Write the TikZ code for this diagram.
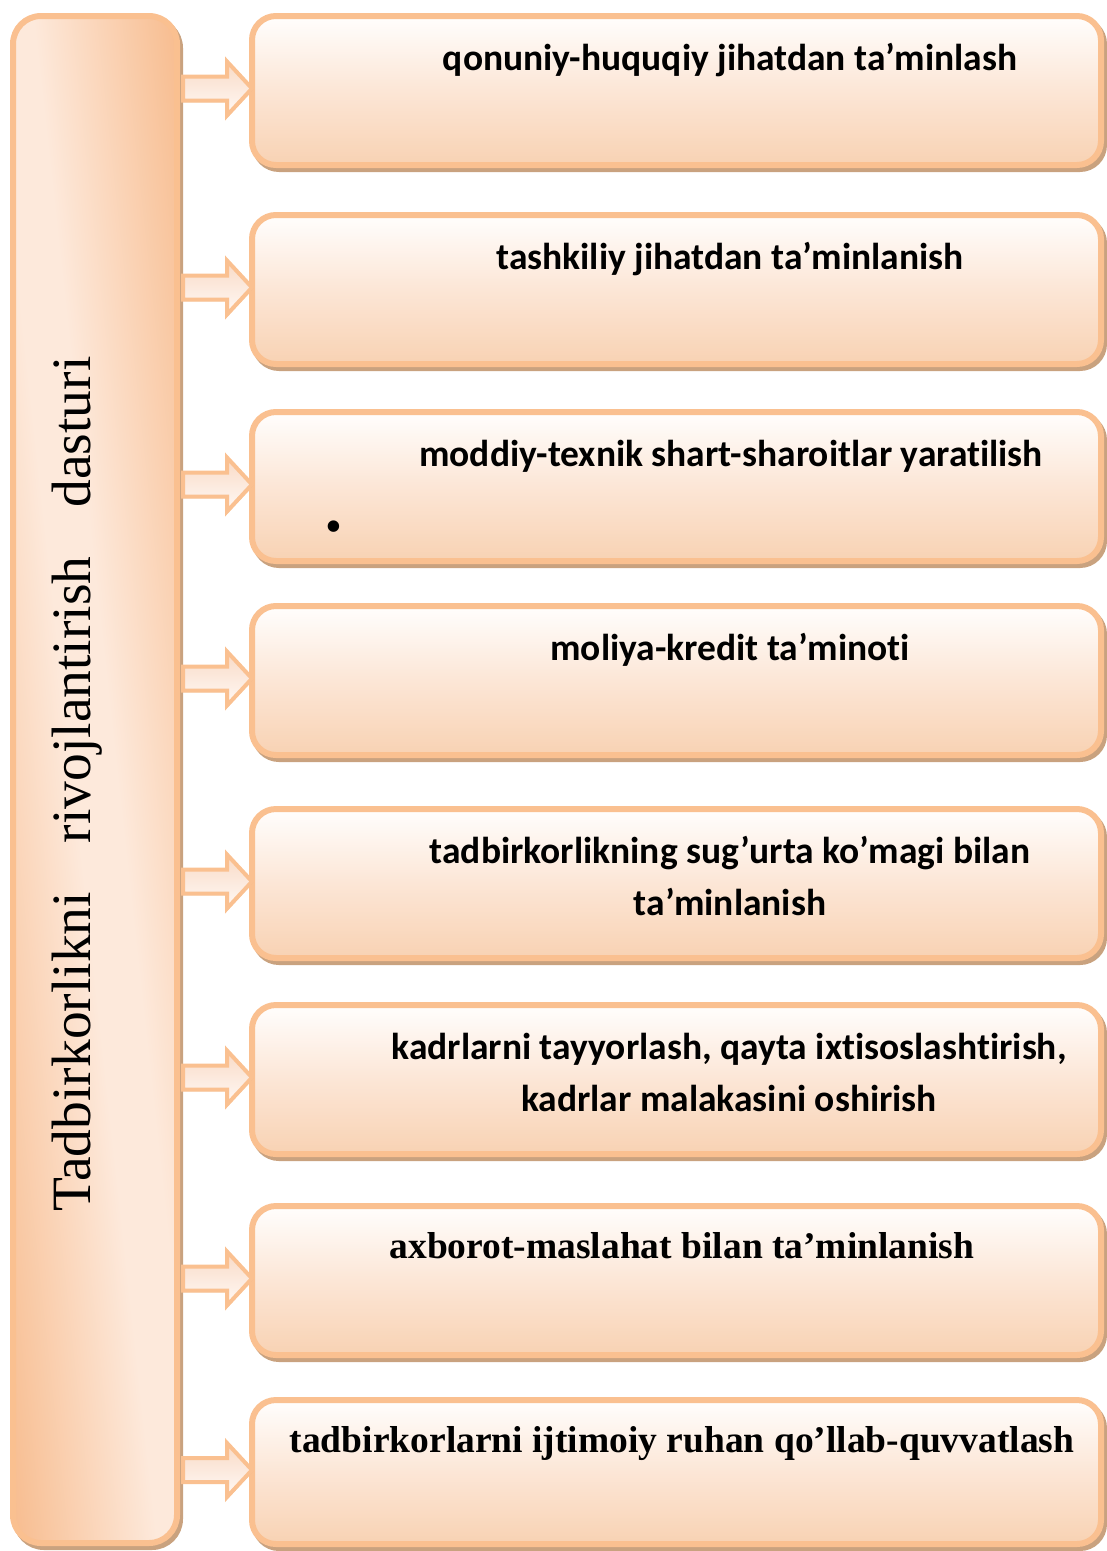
\documentclass[tikz,border=0pt]{standalone}
\usepackage{fontspec}
\setmainfont{Liberation Serif}
\newfontfamily\calfont[Ligatures=NoCommon,Contextuals=NoAlternate]{Carlito}
\usetikzlibrary{calc,shadows}
\definecolor{bordc}{HTML}{FAC090}
\definecolor{shadc}{HTML}{C9A27F}
\definecolor{ldark}{HTML}{F7BA8B}
\definecolor{llight}{HTML}{FDE9DB}
\definecolor{rtop}{HTML}{FFFEFD}
\definecolor{rmid}{HTML}{FCE6D6}
\definecolor{rbot}{HTML}{F8D2B3}
\definecolor{atop}{HTML}{F9DAC5}
\definecolor{abot}{HTML}{FFF9F6}
\pgfdeclarehorizontalshading{leftdiag}{100bp}{color(0bp)=(ldark); color(44.5bp)=(ldark); color(49.3bp)=(llight); color(50.7bp)=(llight); color(55.5bp)=(ldark); color(100bp)=(ldark)}
\pgfdeclareverticalshading{rightbox}{100bp}{color(0bp)=(rbot); color(25bp)=(rbot); color(50bp)=(rmid); color(75bp)=(rtop); color(100bp)=(rtop)}
\tikzset{
  leftbox/.style={draw=bordc, line width=6pt, rounded corners=28pt,
    path picture={\shade[shading=leftdiag, shading angle=6.3]
      ([shift={(-780pt,-780pt)}]path picture bounding box.center) rectangle
      ([shift={(780pt,780pt)}]path picture bounding box.center);},
    minimum width=164pt, minimum height=1527pt, inner sep=0pt,
    drop shadow={shadow xshift=3pt, shadow yshift=-4pt, fill=shadc, draw=shadc, line width=6pt, opacity=1}},
  itembox/.style={draw=bordc, line width=6pt, rounded corners=24pt, shade, shading=rightbox,
    minimum width=849pt, minimum height=#1, inner sep=0pt,
    drop shadow={shadow xshift=3pt, shadow yshift=-4pt, fill=shadc, draw=shadc, line width=6pt, opacity=1}},
  itembox/.default=149pt,
  caltext/.style={font=\calfont\bfseries\fontsize{37.5}{52}\selectfont, align=center, inner sep=0pt, anchor=base},
  timtext/.style={font=\bfseries\fontsize{37.5}{52}\selectfont, align=center, inner sep=0pt, anchor=base},
  blockarrow/.style={draw=bordc, line width=4pt, top color=atop, bottom color=abot, line join=miter},
  arrowshadow/.style={draw=shadc, line width=3pt, fill=none}
}
\begin{document}
\begin{tikzpicture}[x=1pt,y=-1pt]
\useasboundingbox (0,0) rectangle (1107,1551);
% left box
\node[leftbox] (L) at (95,779.5) {};
\node[rotate=90, anchor=base west, inner sep=0pt, font=\fontsize{55.5}{60}\selectfont] (LT) at (90,1212)
  {Tadbirkorlikni\hspace{35pt} rivojlantirish\hspace{35pt} dasturi};
% right boxes
\node[itembox] (b1) at (676.5,90.5) {};
\node[itembox] (b2) at (676.5,289.5) {};
\node[itembox] (b3) at (676.5,486.5) {};
\node[itembox] (b4) at (676.5,680.5) {};
\node[itembox] (b5) at (676.5,883.5) {};
\node[itembox] (b6) at (676.5,1079.5) {};
\node[itembox] (b7) at (676.5,1280.5) {};
\node[itembox=144pt] (b8) at (676.5,1472) {};
% texts
\node[caltext] (t1) at (730,70) {qonuniy-huquqiy jihatdan ta’minlash};
\node[caltext] (t2) at (730,269) {tashkiliy jihatdan ta’minlanish};
\node[caltext] (t3) at (731,466) {moddiy-texnik shart-sharoitlar yaratilish};
\node[font=\fontsize{48}{48}\selectfont, inner sep=0pt] (bul) at (334,532) {•};
\node[caltext] (t4) at (730,660) {moliya-kredit ta’minoti};
\node[caltext] (t5) at (730,915) {tadbirkorlikning sug’urta ko’magi bilan\\ta’minlanish};
\node[caltext] (t6) at (729,1111) {kadrlarni tayyorlash, qayta ixtisoslashtirish,\\kadrlar malakasini oshirish};
\node[timtext] (t7) at (682,1258) {axborot-maslahat bilan ta’minlanish};
\node[timtext] (t8) at (682,1452) {tadbirkorlarni ijtimoiy ruhan qo’llab-quvvatlash};
% arrows
\foreach \i in {1,...,8}{
  \path (L.east |- b\i.west) ++(3pt,2pt) coordinate (s\i);
  \path (b\i.west) ++(3pt,2pt) coordinate (e\i);
  \draw[arrowshadow, shift={(3pt,-4pt)}] let \p1=(s\i), \p2=(e\i) in
    (\x1,\y1-12pt) -- (\x2-25pt,\y1-12pt) -- (\x2-25pt,\y1-27pt) -- (\x2,\y1);
  \filldraw[blockarrow] let \p1=(s\i), \p2=(e\i) in
    (\x1,\y1+12pt) -- (\x2-25pt,\y1+12pt) -- (\x2-25pt,\y1+27pt) -- (\x2,\y1)
    -- (\x2-25pt,\y1-27pt) -- (\x2-25pt,\y1-12pt) -- (\x1,\y1-12pt) -- cycle;
}
\end{tikzpicture}
\end{document}
